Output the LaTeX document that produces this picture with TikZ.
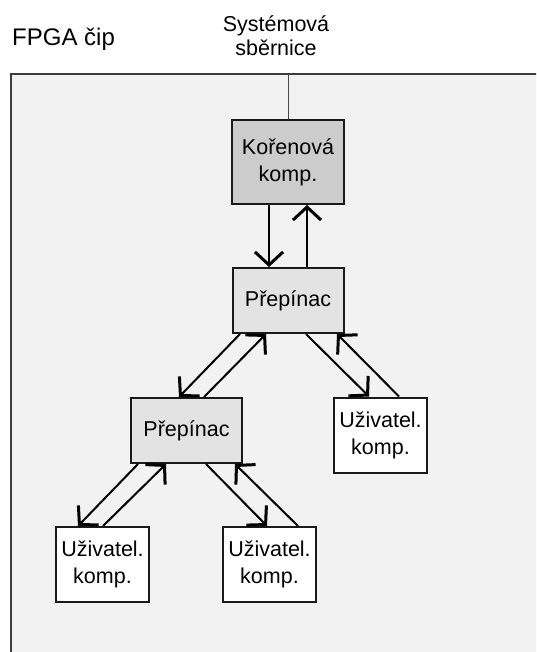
\documentclass[tikz,border=0pt]{standalone}
\usepackage{fontspec}
\setmainfont{Liberation Sans}
\usetikzlibrary{arrows.meta}
\definecolor{chipfill}{HTML}{F2F2F2}
\definecolor{rootfill}{HTML}{CCCCCC}
\definecolor{switchfill}{HTML}{E3E3E3}
\definecolor{edge}{HTML}{1A1A1A}
\tikzset{
  unit/.style={draw=edge, line width=2pt, align=center, inner sep=0pt,
    font=\fontsize{21.5}{27}\selectfont},
  rootbox/.style={unit, fill=rootfill, minimum width=112pt, minimum height=84pt},
  switchbox/.style={unit, fill=switchfill, minimum width=111pt, minimum height=65pt},
  userbox/.style={unit, fill=white, minimum width=93pt, minimum height=75pt},
  flow/.style={draw=black, line width=2pt,
    -{Straight Barb[length=13pt, width=28pt, line width=3pt]}},
}
\begin{document}
\begin{tikzpicture}[x=1pt, y=-1pt]
  \useasboundingbox (0,0) rectangle (536,652);
  \clip (0,0) rectangle (536,652);

  % chip area, running off the right and bottom edges
  \draw[draw=edge!85, line width=2pt, fill=chipfill] (10.5,74) rectangle (545,665);
  \node[anchor=base west, font=\fontsize{24}{28}\selectfont, inner sep=0pt] (chip) at (12,46) {FPGA čip};

  % system bus
  \node[align=center, font=\fontsize{21.5}{24}\selectfont, inner sep=0pt] (buslabel) at (276,36) {Systémová\\sběrnice};
  \coordinate (bus) at (288,74);

  % component tree
  \node[rootbox] (root) at (288,162) {Kořenová\\komp.};
  \node[switchbox] (sw1) at (288,300.5) {Přepínac};
  \node[switchbox] (sw2) at (186.5,430.5) {Přepínac};
  \node[userbox] (u1) at (380.5,435) {Uživatel.\\komp.};
  \node[userbox] (u2) at (102.5,564.5) {Uživatel.\\komp.};
  \node[userbox] (u3) at (269.5,564.5) {Uživatel.\\komp.};

  \draw[draw=edge!80, line width=1pt] (bus) -- (root.north);

  % request / response pairs
  \draw[flow] ([xshift=-19pt]root.south) -- ([xshift=-19pt]sw1.north);
  \draw[flow] ([xshift=19pt]sw1.north) -- ([xshift=19pt]root.south);

  \draw[flow] ([xshift=-48pt]sw1.south) -- ([xshift=-7.5pt]sw2.north);
  \draw[flow] ([xshift=17.5pt]sw2.north) -- ([xshift=-22pt]sw1.south);

  \draw[flow] ([xshift=18pt]sw1.south) -- ([xshift=-11.5pt]u1.north);
  \draw[flow] ([xshift=18.5pt]u1.north) -- ([xshift=49pt]sw1.south);

  \draw[flow] ([xshift=-48.5pt]sw2.south) -- ([xshift=-24.5pt]u2.north);
  \draw[flow] ([xshift=0.5pt]u2.north) -- ([xshift=-20.5pt]sw2.south);

  \draw[flow] ([xshift=19.5pt]sw2.south) -- ([xshift=-2.5pt]u3.north);
  \draw[flow] ([xshift=28.5pt]u3.north) -- ([xshift=48.5pt]sw2.south);
\end{tikzpicture}
\end{document}
